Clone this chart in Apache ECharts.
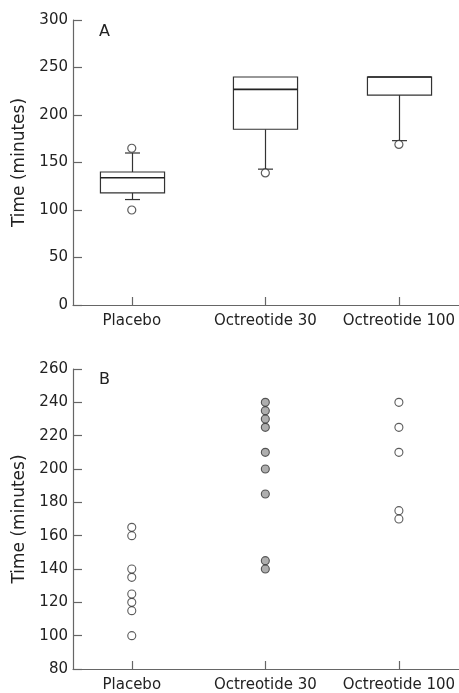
<!DOCTYPE html>
<html><head><meta charset="utf-8">
<script src="https://cdn.jsdelivr.net/npm/echarts@6/dist/echarts.min.js"></script>
<style>html,body{margin:0;padding:0;background:#fff}#c{width:459px;height:693px}</style>
</head><body><div id="c"></div>
<script>
const categories = ['Placebo', 'Octreotide 30', 'Octreotide 100'];
// Panel A box plot statistics
const whiskerLow = [111, 143, 173];
const q1 = [118, 185, 221];
const median = [134, 227, 240];
const q3 = [140, 240, 240];
const whiskerHigh = [160, 240, 240];
const outlierGroup = [0, 0, 1, 2];
const outlierValue = [165, 100, 139, 169];
// Panel B individual values
const placeboTimes = [100, 115, 120, 125, 135, 140, 160, 165];
const oct30Times = [140, 145, 185, 200, 210, 225, 230, 235, 240];
const oct100Times = [170, 175, 210, 225, 240];
const yNameA = 'Time (minutes)';
const yNameB = 'Time (minutes)';
const panelLabels = ['A', 'B'];

const FONT = 'DejaVu Sans';
const AXIS_COLOR = '#666';
const TEXT_COLOR = '#222';
const LINE = '#333';
const catPos = [1, 2, 3];

const boxData = categories.map((c, i) => [i + 1, whiskerLow[i], q1[i], median[i], q3[i], whiskerHigh[i]]);
const outlierData = outlierGroup.map((g, i) => [g + 1, outlierValue[i]]);

function xAxis(gridIndex) {
  return {
    type: 'value', gridIndex, min: 0.56, max: 3.45,
    axisLine: { show: true, lineStyle: { color: AXIS_COLOR, width: 1.2 } },
    axisTick: { show: true, inside: true, length: 8, customValues: catPos, lineStyle: { color: AXIS_COLOR, width: 1.2 } },
    axisLabel: { customValues: catPos, formatter: v => categories[Math.round(v) - 1], margin: 9,
      fontFamily: FONT, fontSize: 15, color: TEXT_COLOR },
    splitLine: { show: false }
  };
}
function yAxis(gridIndex, min, max, interval, name) {
  return {
    type: 'value', gridIndex, min, max, interval, name,
    nameLocation: 'middle', nameGap: 45,
    nameTextStyle: { fontFamily: FONT, fontSize: 17, color: TEXT_COLOR },
    axisLine: { show: true, lineStyle: { color: AXIS_COLOR, width: 1.2 } },
    axisTick: { show: true, inside: true, length: 9, lineStyle: { color: AXIS_COLOR, width: 1.2 } },
    axisLabel: { margin: 5, fontFamily: FONT, fontSize: 15, color: TEXT_COLOR, showMinLabel: true, showMaxLabel: true },
    splitLine: { show: false }
  };
}

function renderBox(params, api) {
  const x = api.value(0);
  const pLow = api.coord([x, api.value(1)]);
  const pQ1 = api.coord([x, api.value(2)]);
  const pMed = api.coord([x, api.value(3)]);
  const pQ3 = api.coord([x, api.value(4)]);
  const pHigh = api.coord([x, api.value(5)]);
  const bw = api.size([0.48, 0])[0];
  const cw = 15;
  const cx = Math.round(pLow[0]) + 0.5;
  const st = { stroke: LINE, lineWidth: 1.2, fill: null };
  const ch = [];
  if (pHigh[1] < pQ3[1] - 0.5) {
    ch.push({ type: 'line', shape: { x1: cx, y1: pQ3[1], x2: cx, y2: pHigh[1] }, style: st });
    ch.push({ type: 'line', shape: { x1: cx - cw / 2, y1: pHigh[1], x2: cx + cw / 2, y2: pHigh[1] }, style: st });
  }
  if (pLow[1] > pQ1[1] + 0.5) {
    ch.push({ type: 'line', shape: { x1: cx, y1: pQ1[1], x2: cx, y2: pLow[1] }, style: st });
    ch.push({ type: 'line', shape: { x1: cx - cw / 2, y1: pLow[1], x2: cx + cw / 2, y2: pLow[1] }, style: st });
  }
  ch.push({ type: 'rect', shape: { x: cx - bw / 2, y: pQ3[1], width: bw, height: pQ1[1] - pQ3[1] },
    style: { stroke: LINE, lineWidth: 1.2, fill: '#fff' } });
  ch.push({ type: 'line', shape: { x1: cx - bw / 2, y1: pMed[1], x2: cx + bw / 2, y2: pMed[1] },
    style: { stroke: '#222', lineWidth: 1.6 } });
  return { type: 'group', children: ch };
}

const chart = echarts.init(document.getElementById('c'), null, { renderer: 'canvas' });
chart.setOption({
  backgroundColor: '#fff',
  animation: false,
  title: [
    { text: panelLabels[0], left: 94, top: 19, textStyle: { fontFamily: FONT, fontSize: 16, fontWeight: 'normal', color: TEXT_COLOR } },
    { text: panelLabels[1], left: 94, top: 367, textStyle: { fontFamily: FONT, fontSize: 16, fontWeight: 'normal', color: TEXT_COLOR } }
  ],
  grid: [
    { left: 73, top: 20, width: 386, height: 285 },
    { left: 73, top: 369, width: 386, height: 300 }
  ],
  xAxis: [xAxis(0), xAxis(1)],
  yAxis: [yAxis(0, 0, 300, 50, yNameA), yAxis(1, 80, 260, 20, yNameB)],
  series: [
    { type: 'custom', xAxisIndex: 0, yAxisIndex: 0, renderItem: renderBox,
      encode: { x: 0, y: [1, 2, 3, 4, 5] }, data: boxData, silent: true },
    { type: 'scatter', xAxisIndex: 0, yAxisIndex: 0, symbol: 'circle', symbolSize: 8,
      itemStyle: { color: '#fff', borderColor: LINE, borderWidth: 1.2 }, data: outlierData, z: 3 },
    { type: 'scatter', xAxisIndex: 1, yAxisIndex: 1, symbol: 'circle', symbolSize: 8,
      itemStyle: { color: '#fff', borderColor: LINE, borderWidth: 1.1 }, data: placeboTimes.map(v => [1, v]) },
    { type: 'scatter', xAxisIndex: 1, yAxisIndex: 1, symbol: 'circle', symbolSize: 8,
      itemStyle: { color: '#9a9a9a', borderColor: LINE, borderWidth: 1.1 }, data: oct30Times.map(v => [2, v]) },
    { type: 'scatter', xAxisIndex: 1, yAxisIndex: 1, symbol: 'circle', symbolSize: 8,
      itemStyle: { color: '#fff', borderColor: LINE, borderWidth: 1.1 }, data: oct100Times.map(v => [3, v]) }
  ]
});
</script></body></html>
